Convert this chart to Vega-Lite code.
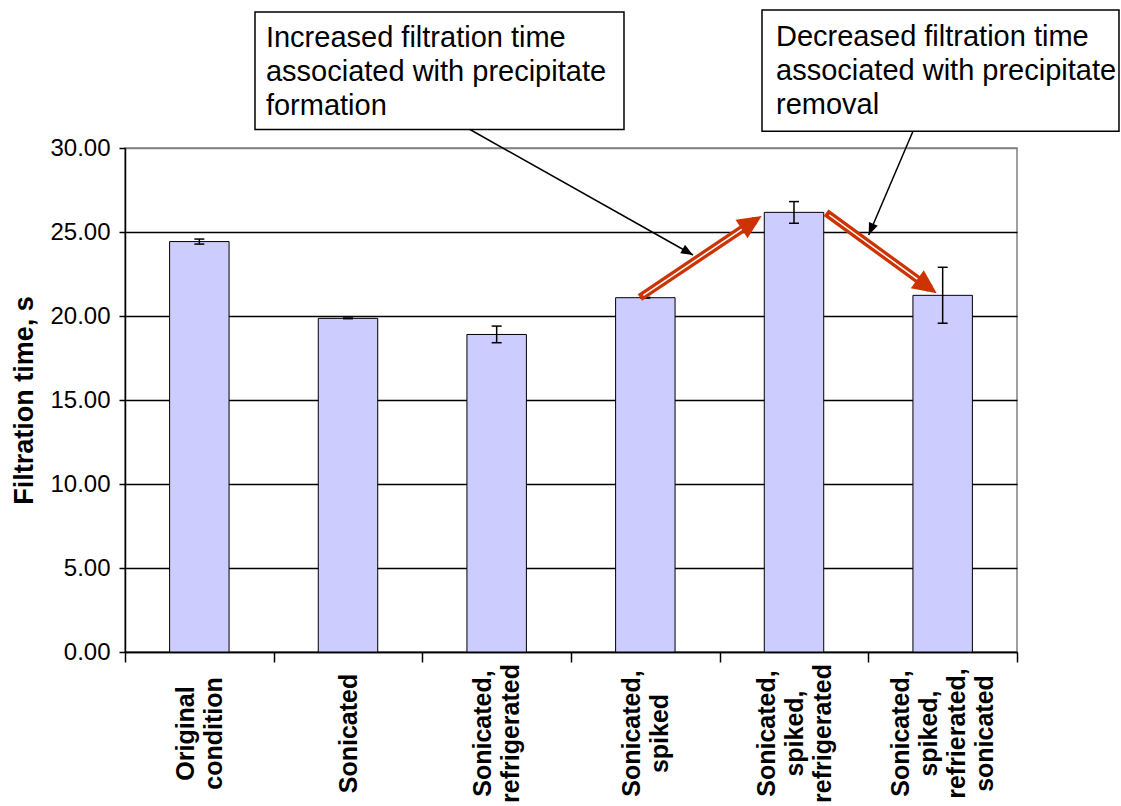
{
  "$schema": "https://vega.github.io/schema/vega-lite/v6.json",
  "width": 892,
  "height": 504,
  "autosize": "none",
  "padding": {"left": 125, "top": 148, "right": 104, "bottom": 154},
  "background": "white",
  "config": {
    "view": {"stroke": "#808080", "strokeWidth": 1.5},
    "font": "Liberation Sans"
  },
  "datasets": {
    "bars": [
      {"condition": "Original condition", "value": 24.43, "lo": 24.28, "hi": 24.58},
      {"condition": "Sonicated", "value": 19.86, "lo": 19.84, "hi": 19.88},
      {"condition": "Sonicated, refrigerated", "value": 18.9, "lo": 18.41, "hi": 19.4},
      {"condition": "Sonicated, spiked", "value": 21.09, "lo": 21.07, "hi": 21.11},
      {"condition": "Sonicated, spiked, refrigerated", "value": 26.17, "lo": 25.52, "hi": 26.81},
      {"condition": "Sonicated, spiked, refrierated, sonicated", "value": 21.23, "lo": 19.57, "hi": 22.9}
    ],
    "boxes": [
      {"x1": 0.8744, "x2": 3.3565, "y1": 31.1, "y2": 38.095, "tx": 0.948, "ty": 36.0, "label": "Increased filtration time\nassociated with precipitate\nformation"},
      {"x1": 4.2847, "x2": 6.686, "y1": 31.0, "y2": 38.214, "tx": 4.379, "ty": 36.1, "label": "Decreased filtration time\nassociated with precipitate\nremoval"}
    ],
    "arrows": [
      {"id": "b1", "kind": "black", "xs": 2.3206, "ys": 31.1, "xe": 3.8206, "ye": 23.631, "xt": 3.8206, "yt": 23.631},
      {"id": "b2", "kind": "black", "xs": 5.3004, "ys": 31.0, "xe": 5.0024, "ye": 24.821, "xt": 5.0024, "yt": 24.821},
      {"id": "r1", "kind": "red", "xs": 3.4863, "ys": 21.232, "xe": 4.2154, "ye": 25.56, "xt": 4.2827, "yt": 25.952},
      {"id": "r2", "kind": "red", "xs": 4.7374, "ys": 26.012, "xe": 5.3946, "ye": 21.774, "xt": 5.4599, "yt": 21.351}
    ]
  },
  "layer": [
    {
      "data": {"name": "bars"},
      "layer": [
        {
          "mark": {"type": "bar", "fill": "#CCCCFF", "stroke": "black", "strokeWidth": 1, "width": {"band": 0.4}},
          "encoding": {
            "x": {
              "field": "condition", "type": "nominal", "sort": null,
              "scale": {"paddingInner": 0, "paddingOuter": 0},
              "axis": {
                "title": null, "tickBand": "extent", "tickSize": 10, "tickColor": "black", "tickWidth": 1.5,
                "domainColor": "black", "domainWidth": 1.5, "labelAngle": 270, "labelAlign": "center",
                "labelBaseline": "middle", "labelFont": "Liberation Sans", "labelFontSize": 25, "labelFontWeight": "bold",
                "labelColor": "black", "labelLineHeight": 28, "labelPadding": 71, "labelLimit": 400,
                "labelOffset": {
                  "condition": [
                    {"test": "length(split(datum.label, ' ')) == 1", "value": 0},
                    {"test": "length(split(datum.label, ' ')) == 2", "value": -14},
                    {"test": "length(split(datum.label, ' ')) == 3", "value": -28}
                  ],
                  "value": -42
                },
                "labelExpr": "split(datum.label, ' ')", "grid": false, "labelOverlap": false
              }
            },
            "y": {
              "field": "value", "type": "quantitative",
              "scale": {"domain": [0, 30], "nice": false},
              "axis": {
                "title": "Filtration time, s", "titleFont": "Liberation Sans", "titleFontSize": 27, "titleFontWeight": "bold",
                "titleColor": "black", "titlePadding": 11, "values": [0, 5, 10, 15, 20, 25, 30], "format": ".2f",
                "labelFont": "Liberation Sans", "labelFontSize": 24, "labelColor": "black", "labelPadding": 9,
                "tickSize": 6, "tickColor": "black", "tickWidth": 1.5, "domainColor": "black", "domainWidth": 1.5,
                "grid": true, "gridWidth": 1.3,
                "gridColor": {"condition": {"test": "datum.value >= 30", "value": "#808080"}, "value": "black"}
              }
            }
          }
        },
        {
          "mark": {"type": "rule", "stroke": "black", "strokeWidth": 1.5},
          "encoding": {
            "x": {"field": "condition", "type": "nominal", "sort": null},
            "y": {"field": "lo", "type": "quantitative"},
            "y2": {"field": "hi"}
          }
        },
        {
          "mark": {"type": "tick", "color": "black", "thickness": 1.5, "size": 10, "opacity": 1},
          "encoding": {
            "x": {"field": "condition", "type": "nominal", "sort": null},
            "y": {"field": "lo", "type": "quantitative"}
          }
        },
        {
          "mark": {"type": "tick", "color": "black", "thickness": 1.5, "size": 10, "opacity": 1},
          "encoding": {
            "x": {"field": "condition", "type": "nominal", "sort": null},
            "y": {"field": "hi", "type": "quantitative"}
          }
        }
      ]
    },
    {
      "layer": [
        {
          "data": {"name": "boxes"},
          "mark": {"type": "rect", "fill": "white", "stroke": "black", "strokeWidth": 1.5},
          "encoding": {
            "x": {"field": "x1", "type": "quantitative", "scale": {"domain": [0, 6], "nice": false, "zero": false}, "axis": null},
            "x2": {"field": "x2"},
            "y": {"field": "y1", "type": "quantitative", "scale": {"domain": [0, 30], "nice": false}, "axis": null},
            "y2": {"field": "y2"}
          }
        },
        {
          "data": {"name": "boxes"},
          "mark": {"type": "text", "align": "left", "baseline": "alphabetic", "font": "Liberation Sans", "fontSize": 29, "lineHeight": 34, "lineBreak": "\n", "color": "black"},
          "encoding": {
            "x": {"field": "tx", "type": "quantitative", "scale": {"domain": [0, 6], "nice": false, "zero": false}, "axis": null},
            "y": {"field": "ty", "type": "quantitative", "scale": {"domain": [0, 30], "nice": false}, "axis": null},
            "text": {"field": "label"}
          }
        },
        {
          "data": {"name": "arrows"},
          "transform": [{"filter": "datum.kind == 'black'"}],
          "mark": {"type": "rule", "stroke": "black", "strokeWidth": 1.5},
          "encoding": {
            "x": {"field": "xs", "type": "quantitative", "scale": {"domain": [0, 6], "nice": false, "zero": false}, "axis": null},
            "x2": {"field": "xe"},
            "y": {"field": "ys", "type": "quantitative", "scale": {"domain": [0, 30], "nice": false}, "axis": null},
            "y2": {"field": "ye"}
          }
        },
        {
          "data": {"name": "arrows"},
          "transform": [{"filter": "datum.kind == 'red'"}],
          "mark": {"type": "rule", "stroke": "#CC3300", "strokeWidth": 8, "strokeCap": "square"},
          "encoding": {
            "x": {"field": "xs", "type": "quantitative", "scale": {"domain": [0, 6], "nice": false, "zero": false}, "axis": null},
            "x2": {"field": "xe"},
            "y": {"field": "ys", "type": "quantitative", "scale": {"domain": [0, 30], "nice": false}, "axis": null},
            "y2": {"field": "ye"}
          }
        },
        {
          "data": {"name": "arrows"},
          "transform": [{"filter": "datum.kind == 'red'"}],
          "mark": {"type": "rule", "stroke": "white", "strokeWidth": 1.5},
          "encoding": {
            "x": {"field": "xs", "type": "quantitative", "scale": {"domain": [0, 6], "nice": false, "zero": false}, "axis": null},
            "x2": {"field": "xe"},
            "y": {"field": "ys", "type": "quantitative", "scale": {"domain": [0, 30], "nice": false}, "axis": null},
            "y2": {"field": "ye"}
          }
        },
        {
          "data": {"name": "arrows"},
          "transform": [{"filter": "datum.id == 'r1'"}],
          "mark": {"type": "point", "shape": "M0,0L-0.92,2L0.92,2Z", "filled": true, "color": "#CC3300", "opacity": 1, "strokeWidth": 0, "size": 576, "angle": 57},
          "encoding": {
            "x": {"field": "xt", "type": "quantitative", "scale": {"domain": [0, 6], "nice": false, "zero": false}, "axis": null},
            "y": {"field": "yt", "type": "quantitative", "scale": {"domain": [0, 30], "nice": false}, "axis": null}
          }
        },
        {
          "data": {"name": "arrows"},
          "transform": [{"filter": "datum.id == 'r2'"}],
          "mark": {"type": "point", "shape": "M0,0L-0.92,2L0.92,2Z", "filled": true, "color": "#CC3300", "opacity": 1, "strokeWidth": 0, "size": 576, "angle": 126},
          "encoding": {
            "x": {"field": "xt", "type": "quantitative", "scale": {"domain": [0, 6], "nice": false, "zero": false}, "axis": null},
            "y": {"field": "yt", "type": "quantitative", "scale": {"domain": [0, 30], "nice": false}, "axis": null}
          }
        },
        {
          "data": {"name": "arrows"},
          "transform": [{"filter": "datum.id == 'b1'"}],
          "mark": {"type": "point", "shape": "M0,0L-0.8,2L0.8,2Z", "filled": true, "color": "black", "opacity": 1, "strokeWidth": 0, "size": 144, "angle": 120},
          "encoding": {
            "x": {"field": "xt", "type": "quantitative", "scale": {"domain": [0, 6], "nice": false, "zero": false}, "axis": null},
            "y": {"field": "yt", "type": "quantitative", "scale": {"domain": [0, 30], "nice": false}, "axis": null}
          }
        },
        {
          "data": {"name": "arrows"},
          "transform": [{"filter": "datum.id == 'b2'"}],
          "mark": {"type": "point", "shape": "M0,0L-0.8,2L0.8,2Z", "filled": true, "color": "black", "opacity": 1, "strokeWidth": 0, "size": 144, "angle": 203},
          "encoding": {
            "x": {"field": "xt", "type": "quantitative", "scale": {"domain": [0, 6], "nice": false, "zero": false}, "axis": null},
            "y": {"field": "yt", "type": "quantitative", "scale": {"domain": [0, 30], "nice": false}, "axis": null}
          }
        }
      ]
    }
  ],
  "resolve": {"scale": {"x": "independent", "y": "independent"}, "axis": {"x": "independent", "y": "independent"}}
}
